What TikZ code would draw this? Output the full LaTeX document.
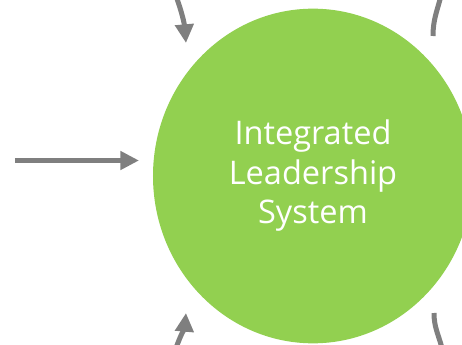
\documentclass[tikz,border=0pt]{standalone}
\usepackage{fontspec}
\setmainfont{Open Sans}
\usetikzlibrary{arrows.meta,shapes.geometric}
\definecolor{ilsgreen}{RGB}{146,208,80}
\definecolor{flowgray}{RGB}{127,127,127}

\begin{document}
\begin{tikzpicture}[x=0.75pt,y=0.75pt,
  flow/.style={draw=flowgray,line width=3.75pt,-{Triangle[length=14pt,width=13.5pt]}},
  rim/.style={draw=flowgray,line width=3.75pt}]
\useasboundingbox (0,0) rectangle (462,344);
\clip (0,0) rectangle (462,344);
% 중심 원
\node[ellipse,fill=ilsgreen,minimum width=240pt,minimum height=251pt,inner sep=0pt,
  text=white,align=center,font=\fontsize{24.4}{29.6}\selectfont] (ils) at (313,168)
  {Integrated\\Leadership\\System};
% 왼쪽 입력
\coordinate (src) at (15,183.5);
\coordinate (dst) at (139,183.5);
\draw[flow] (src) -- (dst);
% 위/아래 순환 화살표
\coordinate (tl0) at (176,348);
\coordinate (tl1) at (186,301);
\draw[flow] (tl0) to[out=-70,in=95] (tl1);
\coordinate (bl0) at (176,-4);
\coordinate (bl1) at (186,31);
\draw[flow] (bl0) to[out=70,in=-95] (bl1);
% 오른쪽 호
\coordinate (tr0) at (433,308);
\coordinate (tr1) at (441,348);
\draw[rim] (tr0) to[out=90,in=-105] (tr1);
\coordinate (br0) at (434,31);
\coordinate (br1) at (442,-4);
\draw[rim] (br0) to[out=-90,in=105] (br1);
\end{tikzpicture}
\end{document}
